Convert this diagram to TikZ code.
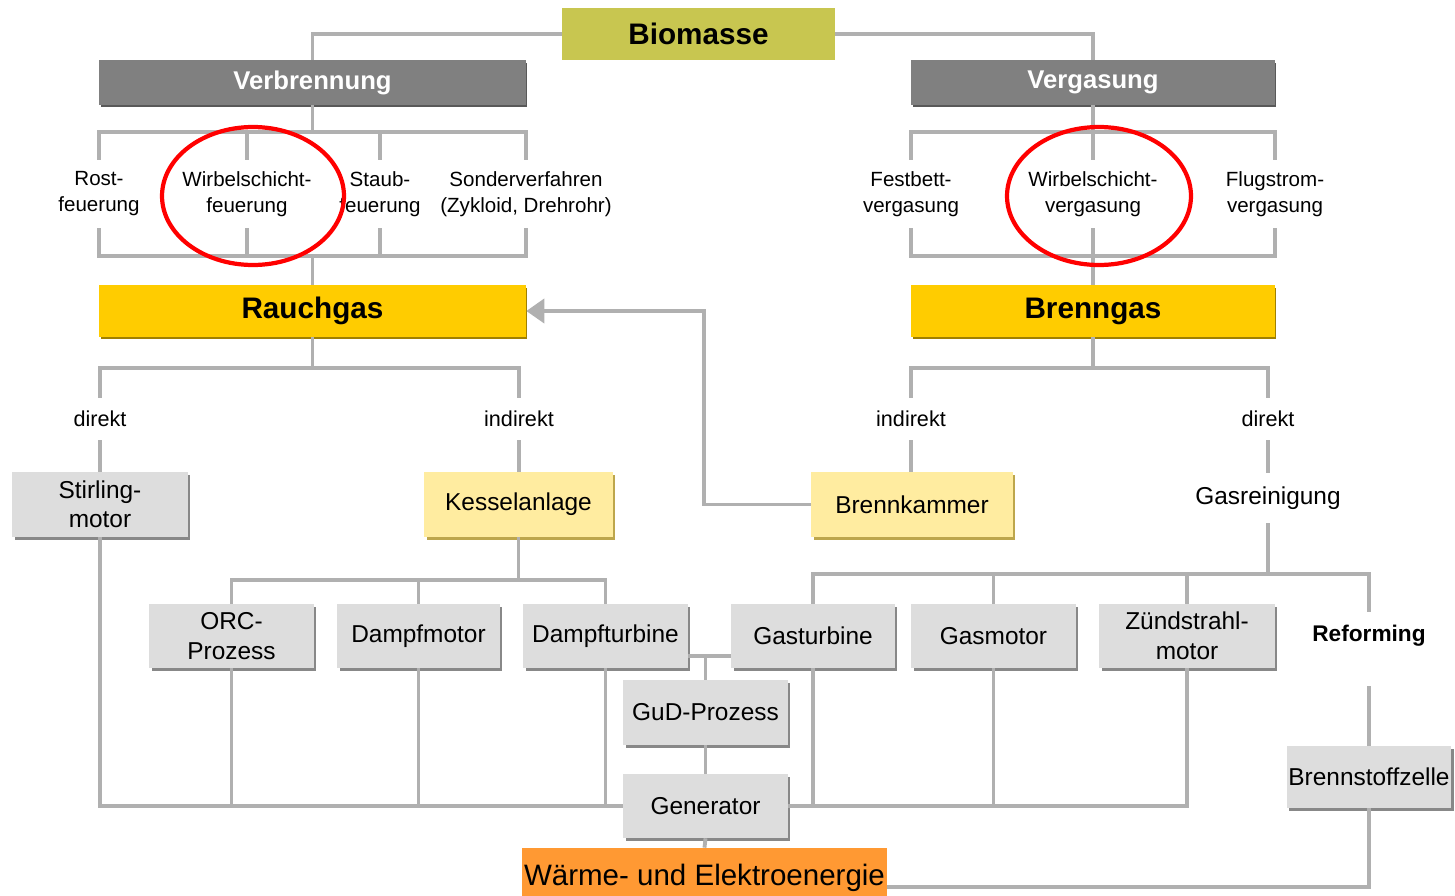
\documentclass[tikz,border=0pt]{standalone}
\usepackage{fontspec}
\setmainfont{Liberation Sans}
\usetikzlibrary{arrows.meta,positioning,calc,shadows}
\definecolor{biocol}{RGB}{200,198,80}
\definecolor{headcol}{RGB}{128,128,128}
\definecolor{gascol}{RGB}{255,204,0}
\definecolor{lightcol}{RGB}{255,236,160}
\definecolor{boxcol}{RGB}{221,221,221}
\definecolor{outcol}{RGB}{255,153,51}
\definecolor{linecol}{RGB}{176,176,176}
\definecolor{shadecol}{RGB}{136,136,136}
\definecolor{goldshade}{RGB}{160,128,0}
\newcommand{\fbig}{\fontsize{16.9pt}{19pt}\selectfont}
\newcommand{\fhead}{\fontsize{14.6pt}{17pt}\selectfont}
\newcommand{\fnorm}{\fontsize{13.9pt}{16.8pt}\selectfont}
\newcommand{\fsmall}{\fontsize{11.7pt}{14.8pt}\selectfont}
\newcommand{\fway}{\fontsize{12.3pt}{15pt}\selectfont}
\tikzset{
  base/.style   ={rectangle, inner sep=1pt, align=center, text=black},
  bio/.style    ={base, fill=biocol, font=\fbig\bfseries,
                  minimum width=5.46cm, minimum height=1.04cm},
  head/.style   ={base, fill=headcol, text=white, font=\fhead\bfseries,
                  minimum height=0.9cm,
                  drop shadow={shadow xshift=0.03cm, shadow yshift=-0.05cm, fill=black!65, opacity=1}},
  gas/.style    ={base, fill=gascol, font=\fbig\bfseries, minimum height=1.04cm,
                  drop shadow={shadow xshift=0.03cm, shadow yshift=-0.05cm, fill=goldshade, opacity=1}},
  unit/.style   ={base, fill=boxcol, font=\fnorm, minimum width=3.3cm, minimum height=1.28cm,
                  drop shadow={shadow xshift=0.05cm, shadow yshift=-0.06cm, fill=shadecol, opacity=1}},
  hot/.style    ={unit, fill=lightcol,
                  drop shadow={shadow xshift=0.05cm, shadow yshift=-0.06cm, fill=goldshade!70, opacity=1}},
  result/.style ={base, fill=outcol, font=\fontsize{16.8pt}{19pt}\selectfont,
                  minimum width=7.3cm, minimum height=1.2cm, inner sep=0pt},
  lbl/.style    ={align=center, inner sep=0pt, font=\fsmall, minimum height=1.36cm},
  way/.style    ={inner sep=0pt, font=\fway, minimum height=0.84cm},
  conn/.style   ={draw=linecol, line width=2.2pt},
  feed/.style   ={conn, -{Triangle[length=0.36cm, width=0.48cm]}},
  ring/.style   ={draw=red, line width=2.4pt},
}
\begin{document}
\begin{tikzpicture}[x=0.02cm, y=-0.02cm]
  \useasboundingbox (0,0) rectangle (1455,896);

  % top level
  \node[bio] (bio) at (698.5,34) {Biomasse};
  \node[head, minimum width=8.54cm] (verb) at (312.5,82.5) {Verbrennung};
  \node[head, minimum width=7.28cm] (verg) at (1093,82.5) {Vergasung};

  % Feuerungsarten
  \node[lbl] (rost)  at (99,194)  {Rost-\\feuerung};
  \node[lbl] (wirbf) at (247,194) {Wirbelschicht-\\feuerung};
  \node[lbl] (staub) at (380,194) {Staub-\\feuerung};
  \node[lbl] (sond)  at (526,194) {Sonderverfahren\\(Zykloid, Drehrohr)};

  % Vergasungsarten
  \node[lbl] (festb) at (911,194)  {Festbett-\\vergasung};
  \node[lbl] (wirbv) at (1093,194) {Wirbelschicht-\\vergasung};
  \node[lbl] (flug)  at (1275,194) {Flugstrom-\\vergasung};

  \node[gas, minimum width=8.54cm] (rauch) at (312.5,311) {Rauchgas};
  \node[gas, minimum width=7.28cm] (brenn) at (1093,311) {Brenngas};

  \node[way] (rdir) at (100,419)  {direkt};
  \node[way] (rind) at (519,419)  {indirekt};
  \node[way] (bind) at (911,419)  {indirekt};
  \node[way] (bdir) at (1268,419) {direkt};

  \node[unit, minimum width=3.52cm, minimum height=1.3cm] (stir) at (100,504.5) {Stirling-\\motor};
  \node[hot, minimum width=3.78cm, minimum height=1.3cm] (kessel) at (518.5,504.5) {Kesselanlage};
  \node[hot, minimum width=4.04cm, minimum height=1.3cm] (brk) at (912,504.5) {Brennkammer};
  \node[font=\fnorm, inner sep=0pt, minimum height=1cm] (gasr) at (1268,498) {Gasreinigung};

  % Wandler
  \node[unit] (orc)   at (231.5,636) {ORC-\\Prozess};
  \node[unit, minimum width=3.26cm] (dmot) at (418.5,636) {Dampfmotor};
  \node[unit] (dturb) at (605.5,636) {Dampfturbine};
  \node[unit, minimum width=3.28cm] (gastu) at (813,636) {Gasturbine};
  \node[unit] (gasmo) at (993.5,636) {Gasmotor};
  \node[unit, minimum width=3.52cm] (zuend) at (1187,636) {Zündstrahl-\\motor};
  \node[font=\fontsize{12.9pt}{15pt}\selectfont\bfseries, inner sep=0pt,
        minimum height=0.96cm] (reform) at (1369,636) {Reforming};

  \node[unit, minimum height=1.3cm] (gud) at (705.5,712.5) {GuD-Prozess};
  \node[unit] (gen) at (705.5,806) {Generator};
  \node[unit, minimum height=1.24cm] (bsz) at (1369,777) {Brennstoffzelle};
  \node[result] (waerme) at (704.5,878) {Wärme- und Elektroenergie};

  % Verbindungen oben
  \coordinate (vt) at (312.5,132);
  \coordinate (vb) at (312.5,256);
  \coordinate (gt) at (1093,132);
  \coordinate (gb) at (1093,256);
  \draw[conn] (bio.west) -| (verb.north);
  \draw[conn] (bio.east) -| (verg.north);

  \draw[conn] (verb.south) -- (vt);
  \draw[conn] (rost.north) |- (vt) -| (sond.north);
  \draw[conn] (wirbf.north) -- (wirbf.north |- vt);
  \draw[conn] (staub.north) -- (staub.north |- vt);
  \draw[conn] (rost.south) |- (vb) -| (sond.south);
  \draw[conn] (wirbf.south) -- (wirbf.south |- vb);
  \draw[conn] (staub.south) -- (staub.south |- vb);
  \draw[conn] (vb) -- (rauch.north);

  \draw[conn] (verg.south) -- (gt);
  \draw[conn] (festb.north) |- (gt) -| (flug.north);
  \draw[conn] (wirbv.north) -- (gt);
  \draw[conn] (festb.south) |- (gb) -| (flug.south);
  \draw[conn] (wirbv.south) -- (gb);
  \draw[conn] (gb) -- (brenn.north);

  % direkt / indirekt
  \coordinate (rt) at (312.5,368);
  \coordinate (bt) at (1093,368);
  \draw[conn] (rauch.south) -- (rt);
  \draw[conn] (rdir.north) |- (rt) -| (rind.north);
  \draw[conn] (rdir.south) -- (stir.north);
  \draw[conn] (rind.south) -- (rind.south |- kessel.north);
  \draw[conn] (brenn.south) -- (bt);
  \draw[conn] (bind.north) |- (bt) -| (bdir.north);
  \draw[conn] (bind.south) -- (bind.south |- brk.north);
  \draw[conn] (bdir.south) -- (gasr.north);

  \coordinate (bend) at (704,0);
  \draw[feed] (brk.west) -- (brk.west -| bend) |- (rauch.east);

  % Kessel und Gasreinigung
  \coordinate (kt) at (519,580);
  \coordinate (st) at (1268,574);
  \draw[conn] (kessel.south) -- (kessel.south |- kt);
  \draw[conn] (orc.north) |- (kt) -| (dturb.north);
  \draw[conn] (dmot.north) -- (dmot.north |- kt);
  \draw[conn] (gasr.south) -- (st);
  \draw[conn] (gastu.north) |- (st) -| (reform.north);
  \draw[conn] (gasmo.north) -- (gasmo.north |- st);
  \draw[conn] (zuend.north) -- (zuend.north |- st);

  % GuD, Generator
  \draw[conn] ([yshift=-0.4cm]dturb.east) -- coordinate[midway] (gd) ([yshift=-0.4cm]gastu.west);
  \draw[conn] (gud.north |- gd) -- (gud.north);
  \draw[conn] (gud.south) -- (gen.north);
  \draw[conn] (gen.south) -- (waerme.north);

  \draw[conn] (stir.south) |- (gen.west);
  \draw[conn] (orc.south) -- (orc.south |- gen.west);
  \draw[conn] (dmot.south) -- (dmot.south |- gen.west);
  \draw[conn] (dturb.south) -- (dturb.south |- gen.west);
  \draw[conn] (zuend.south) |- (gen.east);
  \draw[conn] (gastu.south) -- (gastu.south |- gen.east);
  \draw[conn] (gasmo.south) -- (gasmo.south |- gen.east);

  \draw[conn, shorten <=0.52cm] (reform.south) -- (bsz.north);
  \draw[conn] (bsz.south) |- ([yshift=-0.18cm]waerme.east);

  % Markierungen
  \draw[ring] (253,196) ellipse [x radius=1.82cm, y radius=1.38cm];
  \draw[ring] (1099,196) ellipse [x radius=1.84cm, y radius=1.38cm];
\end{tikzpicture}
\end{document}
